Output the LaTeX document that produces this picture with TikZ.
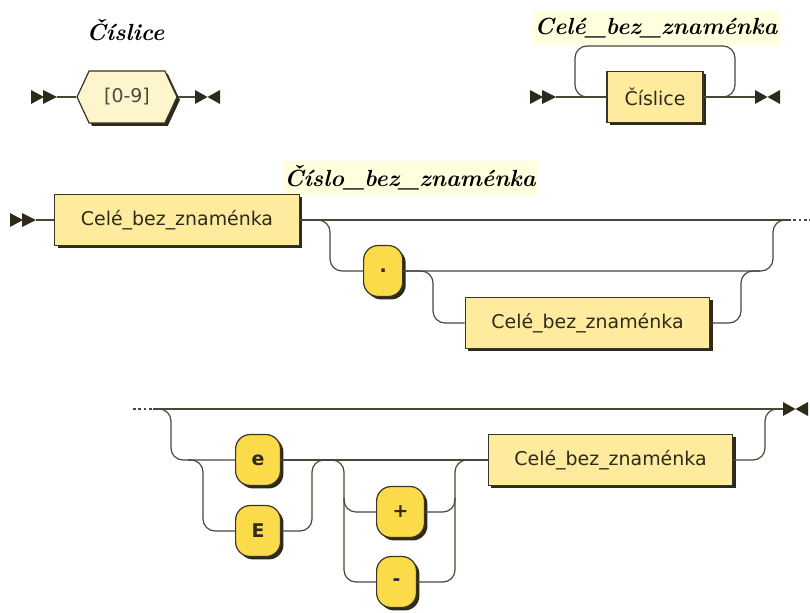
\documentclass[tikz,border=0pt]{standalone}
\usepackage{fontspec}
\newfontfamily\boxfont{DejaVu Sans}
\usetikzlibrary{shapes.symbols,shadows}
\definecolor{ntfill}{HTML}{FEEB9D}
\definecolor{hexfill}{HTML}{FFF5CC}
\definecolor{tfill}{HTML}{FCDB4A}
\definecolor{titlebg}{HTML}{FFFFDD}
\definecolor{shad}{HTML}{2E2A1A}
\definecolor{edge}{HTML}{3A3524}
\definecolor{railc}{HTML}{4A4638}
\definecolor{txt}{HTML}{2E2A1E}
\begin{document}
\begin{tikzpicture}[x=0.75pt,y=-0.75pt,
  rail/.style={draw=railc,line width=0.9pt,rounded corners=9pt},
  dots/.style={draw=railc,line width=0.9pt,dash pattern=on 2pt off 2pt},
  marker/.style={fill=shad},
  shd/.style={drop shadow={shadow xshift=2.2pt,shadow yshift=-2.2pt,fill=shad,opacity=1}},
  nt/.style={rectangle,draw=edge,fill=ntfill,line width=0.9pt,minimum height=38.25pt,
    font=\boxfont\fontsize{14.2}{16}\selectfont,text=txt,shd},
  term/.style={rectangle,rounded corners=11pt,draw=edge,fill=tfill,line width=0.9pt,
    minimum height=38.25pt,inner xsep=12pt,anchor=west,
    font=\boxfont\bfseries\fontsize{14.2}{16}\selectfont,text=txt,shd},
  hexa/.style={signal,signal to=east and west,signal pointer angle=130,draw=edge,fill=hexfill,
    line width=0.9pt,minimum height=39pt,minimum width=75pt,inner xsep=2pt,
    font=\boxfont\fontsize{14.2}{16}\selectfont,text=txt!85,shd},
  title/.style={font=\fontsize{17.5}{20}\selectfont\bfseries\itshape,inner xsep=1pt,
    minimum height=26pt,text=black}
]
\useasboundingbox (0,0) rectangle (810,613);

% ---------- Diagram 1: Číslice ----------
\node[title] (t1) at (125.5,30) {Číslice};
\coordinate (a1) at (31,97);
\coordinate (a1e) at (57,97);
\fill[marker] (a1) ++(0,-7) -- ++(13,7) -- ++(-13,7) -- cycle;
\fill[marker] (a1) ++(12,-7) -- ++(14,7) -- ++(-14,7) -- cycle;
\node[hexa] (h1) at (127,97) {[0-9]};
\coordinate (z1) at (195,97);
\fill[marker] (z1) ++(0,-7) -- ++(12.5,7) -- ++(-12.5,7) -- cycle;
\fill[marker] (z1) ++(25,-7) -- ++(-12.5,7) -- ++(12.5,7) -- cycle;
\draw[rail] (a1e) -- (h1.west);
\draw[rail] (h1.east) -- (z1);

% ---------- Diagram 2: Celé_bez_znaménka ----------
\node[title,fill=titlebg] (t2) at (656,28) {Celé\_bez\_znaménka};
\coordinate (a2) at (530,97);
\coordinate (a2e) at (556,97);
\fill[marker] (a2) ++(0,-7) -- ++(13,7) -- ++(-13,7) -- cycle;
\fill[marker] (a2) ++(12,-7) -- ++(14,7) -- ++(-14,7) -- cycle;
\node[nt,minimum width=72pt] (n2) at (655,97) {Číslice};
\coordinate (z2) at (755,97);
\fill[marker] (z2) ++(0,-7) -- ++(12.5,7) -- ++(-12.5,7) -- cycle;
\fill[marker] (z2) ++(25,-7) -- ++(-12.5,7) -- ++(12.5,7) -- cycle;
\coordinate (l2a) at (575,46);
\coordinate (l2b) at (735,46);
\draw[rail] (a2e) -- (n2.west);
\draw[rail] (n2.east) -- (z2);
\draw[rail] (n2.west) -| (l2a) -| (l2b |- n2.east) -- (n2.east);

% ---------- Diagram 3: Číslo_bez_znaménka ----------
\node[title,fill=titlebg] (t3) at (410,178) {Číslo\_bez\_znaménka};
\coordinate (a3) at (10,220);
\coordinate (a3e) at (36,220);
\fill[marker] (a3) ++(0,-7) -- ++(13,7) -- ++(-13,7) -- cycle;
\fill[marker] (a3) ++(12,-7) -- ++(14,7) -- ++(-14,7) -- cycle;
\node[nt,minimum width=183.5pt] (n3) at (177,220) {Celé\_bez\_znaménka};
\coordinate (d3) at (788,220);
\coordinate (d3e) at (810,220);
\node[term] (dot) at (363,271) {.};
\node[nt,minimum width=183.5pt] (n3b) at (587.5,323) {Celé\_bez\_znaménka};
\coordinate (j3a) at (330,271);
\coordinate (j3b) at (773,220);
\coordinate (j3c) at (433,323);
\coordinate (j3d) at (741,271);
\coordinate (j3e) at (760,271);
\draw[rail] (a3e) -- (n3.west);
\draw[rail] (n3.east) -- (d3);
\draw[dots] (d3) -- (d3e);
\draw[rail] (n3.east) -| (j3a) -- (dot.west);
\draw[rail] (dot.east) -| (j3b) -- (d3);
\draw[rail] (dot.east) -| (j3c) -- (n3b.west);
\draw[rail] (n3b.east) -| (j3d) -- (j3e);

% ---------- Diagram 3 continued ----------
\coordinate (c4) at (133,409);
\coordinate (c4e) at (153,409);
\coordinate (z4) at (783,409);
\fill[marker] (z4) ++(0,-7) -- ++(12.5,7) -- ++(-12.5,7) -- cycle;
\fill[marker] (z4) ++(25,-7) -- ++(-12.5,7) -- ++(12.5,7) -- cycle;
\node[term] (e) at (235,460) {e};
\node[term] (E) at (235,531) {E};
\node[term] (plus) at (376,512) {+};
\node[term] (minus) at (376,582) {-};
\node[nt,minimum width=183.5pt] (n4) at (610.5,460) {Celé\_bez\_znaménka};
\coordinate (k1) at (171,460);
\coordinate (k2) at (188,460);
\coordinate (k3) at (203,531);
\coordinate (k4) at (312,460);
\coordinate (k5) at (330,460);
\coordinate (k6) at (344,582);
\coordinate (k7) at (344,498);
\coordinate (k8) at (455,460);
\coordinate (k9) at (455,498);
\coordinate (k10) at (765,409);
\draw[dots] (c4) -- (c4e);
\draw[rail] (c4e) -- (z4);
\draw[rail] (c4e) -| (k1) -- (e.west);
\draw[rail] (k2) -| (k3) -- (E.west);
\draw[rail] (E.east) -| (k4) -- (k5);
\draw[rail] (e.east) -- (n4.west);
\draw[rail] (k5) -| (k6) -- (minus.west);
\draw[rail] (k7) |- (plus.west);
\draw[rail] (minus.east) -| (k8) -- (n4.west);
\draw[rail] (plus.east) -| (k9);
\draw[rail] (n4.east) -| (k10) -- (z4);
\end{tikzpicture}
\end{document}
